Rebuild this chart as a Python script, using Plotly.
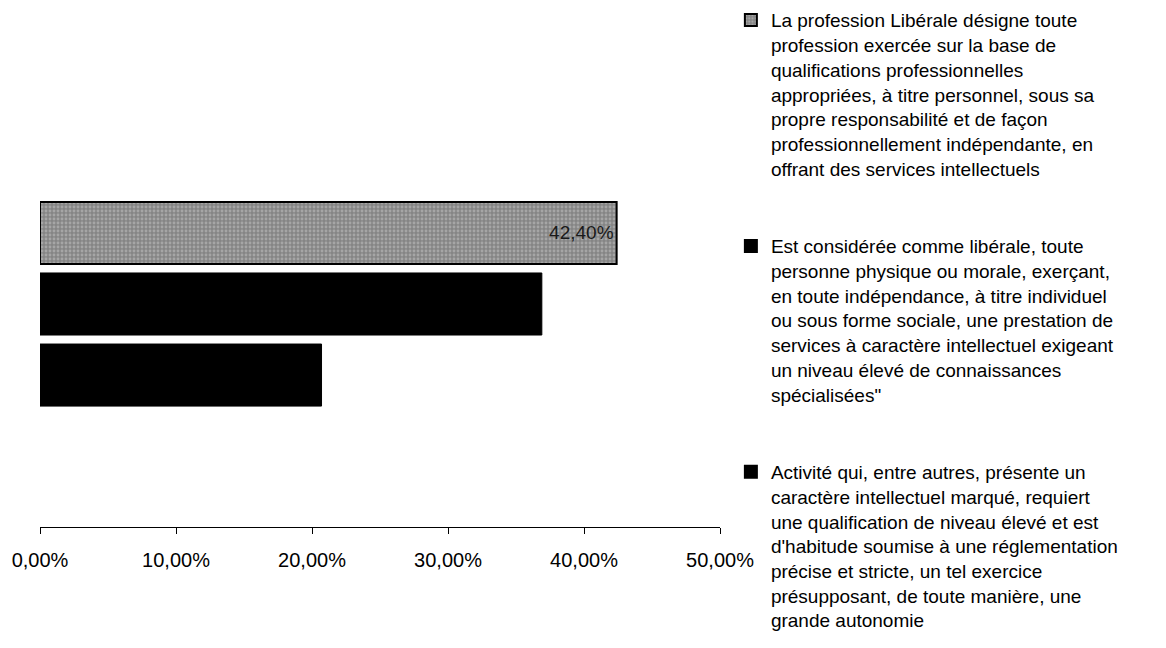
import plotly.graph_objects as go

category = [""]
series_names = [
    "La profession Libérale désigne toute<br>profession exercée sur la base de<br>qualifications professionnelles<br>appropriées, à titre personnel, sous sa<br>propre responsabilité et de façon<br>professionnellement indépendante, en<br>offrant des services intellectuels",
    "Est considérée comme libérale, toute<br>personne physique ou morale, exerçant,<br>en toute indépendance, à titre individuel<br>ou sous forme sociale, une prestation de<br>services à caractère intellectuel exigeant<br>un niveau élevé de connaissances<br>spécialisées\"",
    "Activité qui, entre autres, présente un<br>caractère intellectuel marqué, requiert<br>une qualification de niveau élevé et est<br>d'habitude soumise à une réglementation<br>précise et stricte, un tel exercice<br>présupposant, de toute manière, une<br>grande autonomie",
]
series_values = [0.424, 0.369, 0.207]
show_label = [True, False, False]
tick_values = [0, 0.1, 0.2, 0.3, 0.4, 0.5]

FONT = "Arial, Liberation Sans, sans-serif"

fig = go.Figure()
for i, (name, val) in enumerate(zip(series_names, series_values)):
    if i == 0:
        marker = dict(color="#8f8f8f", line=dict(color="black", width=2),
                      pattern=dict(shape=".", size=4, solidity=0.4,
                                   fgcolor="#c8c8c8", bgcolor="#858585"))
    else:
        marker = dict(color="black", line=dict(color="black", width=1))
    fig.add_trace(go.Bar(
        x=[val], y=category, orientation="h", name=name,
        marker=marker,
        text=[val] if show_label[i] else None,
        texttemplate="%{x:.2%}" if show_label[i] else None,
        textposition="inside", insidetextanchor="end",
        textfont=dict(family=FONT, size=19, color="#1a1a1a"),
        legendgroup=f"g{i}",
    ))

fig.update_layout(
    width=1166, height=648,
    paper_bgcolor="white", plot_bgcolor="white",
    separators=", ",
    barmode="group", bargap=0.522, bargroupgap=0.127,
    margin=dict(l=32, r=454, t=73, b=129, autoexpand=False),
    font=dict(family=FONT, size=19, color="black"),
    showlegend=True,
    legend=dict(x=1.016, y=1.179, xanchor="left", yanchor="top",
                font=dict(family=FONT, size=19, color="black"),
                tracegroupgap=50, itemsizing="constant", valign="top",
                maxheight=1000, borderwidth=0,
                bgcolor="rgba(0,0,0,0)"),
    xaxis=dict(range=[0, 0.5], tickvals=tick_values, tickformat=".2%",
               showgrid=False, zeroline=False, showline=True,
               linecolor="black", linewidth=1, ticks="outside",
               ticklen=6, tickcolor="black", tickwidth=1,
               ticklabelstandoff=9,
               tickfont=dict(family=FONT, size=20, color="black")),
    yaxis=dict(autorange="reversed", showticklabels=False, showgrid=False,
               zeroline=False, showline=False, ticks=""),
)

fig.write_html("out.html")
